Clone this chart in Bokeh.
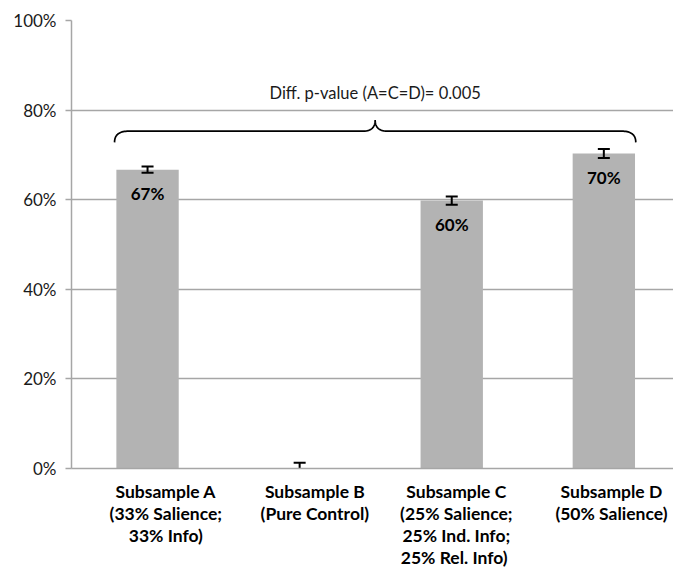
import numpy as np
from bokeh.plotting import figure
from bokeh.models import FixedTicker, NumeralTickFormatter, Range1d
from bokeh.core.properties import value
from bokeh.embed import file_html
from bokeh.resources import INLINE

# ---- data ----
categories = [
    "Subsample A\n(33% Salience;\n33% Info)",
    "Subsample B\n(Pure Control)",
    "Subsample C\n(25% Salience;\n25% Ind. Info;\n 25% Rel. Info)",
    "Subsample D\n(50% Salience)",
]
shares = [0.667, 0.0, 0.598, 0.703]
errors = [0.007, 0.013, 0.009, 0.010]
value_labels = ["67%", "", "60%", "70%"]
y_ticks = [0.0, 0.2, 0.4, 0.6, 0.8, 1.0]
note = "Diff. p-value (A=C=D)= 0.005"

# ---- layout / style ----
FONT = "Lato"
BAR_W = 0.41
LABEL_SHIFT = [0.12, 0.10, 0.03, 0.05]
GRID = "#a6a6a6"

xs = list(range(len(shares)))

p = figure(width=673, height=571, x_range=Range1d(-0.5, 3.458), y_range=Range1d(0, 1),
           output_backend="svg", toolbar_location=None,
           min_border_left=71, min_border_top=20, min_border_right=0, min_border_bottom=10)
p.outline_line_color = None
p.background_fill_color = "white"
p.xgrid.grid_line_color = None
p.ygrid.grid_line_color = GRID
p.ygrid.grid_line_width = 1.5

p.vbar(x=xs, top=shares, width=BAR_W, fill_color="#b3b3b3", line_color=None)

lo = [v - e for v, e in zip(shares, errors)]
hi = [v + e for v, e in zip(shares, errors)]
p.segment(x0=xs, y0=lo, x1=xs, y1=hi, line_color="black", line_width=2)
p.scatter(x=xs + xs, y=lo + hi, marker="dash", size=12, line_width=2, line_color="black")

p.text(x=xs, y=shares, text=value_labels, y_offset=24, text_align="center",
       text_baseline="middle", text_font=value(FONT), text_font_size="17px",
       text_font_style="bold", text_color="black")

# brace spanning subsamples A, C, D
x0 = xs[0] - BAR_W / 2 - 0.012
x1 = xs[3] + BAR_W / 2 + 0.005
xc = (x0 + x1) / 2
y_end, y_mid, y_tip = 0.728, 0.753, 0.778
de, dt = 0.092, 0.079

def quad(a, c, b, n=20):
    t = np.linspace(0, 1, n)
    bx = (1 - t) ** 2 * a[0] + 2 * (1 - t) * t * c[0] + t ** 2 * b[0]
    by = (1 - t) ** 2 * a[1] + 2 * (1 - t) * t * c[1] + t ** 2 * b[1]
    return list(bx), list(by)

bxs, bys = [], []
for seg in [((x0, y_end), (x0, y_mid), (x0 + de, y_mid)),
            ((xc - dt, y_mid), (xc, y_mid), (xc, y_tip)),
            ((xc, y_tip), (xc, y_mid), (xc + dt, y_mid)),
            ((x1 - de, y_mid), (x1, y_mid), (x1, y_end))]:
    a, b = quad(*seg)
    bxs += a
    bys += b
p.line(bxs, bys, line_color="black", line_width=1.7)

p.text(x=[xc], y=[0.839], text=[note], text_align="center", text_baseline="middle",
       text_font=value(FONT), text_font_size="16.5px", text_color="#1a1a1a")

# axes
ya = p.yaxis[0]
ya.ticker = FixedTicker(ticks=y_ticks)
ya.formatter = NumeralTickFormatter(format="0%")
ya.axis_line_color = GRID
ya.axis_line_width = 1.5
ya.major_tick_line_color = GRID
ya.major_tick_line_width = 1.5
ya.major_tick_in = 0
ya.major_tick_out = 6
ya.minor_tick_line_color = None
ya.major_label_standoff = 9
ya.major_label_text_font = FONT
ya.major_label_text_font_size = "17px"
ya.major_label_text_color = "#1a1a1a"

xa = p.xaxis[0]
ticks = [x + s for x, s in zip(xs, LABEL_SHIFT)]
xa.ticker = FixedTicker(ticks=ticks)
xa.major_label_overrides = {t: c for t, c in zip(ticks, categories)}
xa.axis_line_color = GRID
xa.axis_line_width = 1.5
xa.major_tick_line_color = None
xa.minor_tick_line_color = None
xa.major_label_standoff = 6
xa.major_label_text_font = FONT
xa.major_label_text_font_size = "17.5px"
xa.major_label_text_font_style = "bold"
xa.major_label_text_color = "black"
xa.major_label_text_line_height = 1.06

open("out.html", "w").write(file_html(p, INLINE))
